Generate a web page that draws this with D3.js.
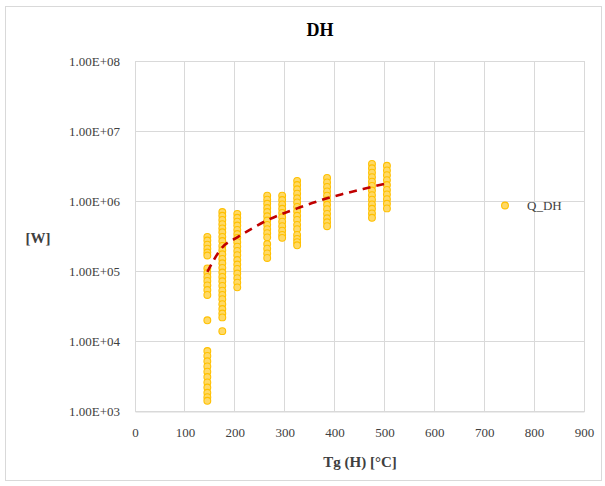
<!DOCTYPE html>
<html>
<head>
<meta charset="utf-8">
<script src="https://cdn.jsdelivr.net/npm/d3@7"></script>
<style>
  html, body { margin: 0; padding: 0; background: #fff; }
  svg { display: block; font-family: "Liberation Serif", "Times New Roman", serif; }
</style>
</head>
<body>
<svg id="chart" width="605" height="486"></svg>
<script>
// Gas temperature levels (°C) and the heat duty Q_DH (W) recorded at each level
const temperatures = [145, 175, 205, 265, 295, 325, 385, 475, 505];
const qAt145 = [3.1e5, 2.75e5, 2.4e5, 2.1e5, 1.85e5, 1.68e5,
                1.1e5, 9.5e4, 8.3e4, 7.3e4, 6.3e4, 5.4e4, 4.6e4,
                2.0e4,
                7.3e3, 6.2e3, 5.2e3, 4.4e3, 3.7e3, 3.1e3, 2.6e3, 2.2e3, 1.85e3, 1.6e3, 1.42e3];
const qAt175 = [7.0e5, 6.2e5, 5.4e5, 4.7e5, 4.1e5, 3.6e5, 3.1e5, 2.7e5, 2.3e5, 2.0e5,
                1.75e5, 1.5e5, 1.3e5, 1.12e5, 9.6e4, 8.3e4, 7.2e4, 6.2e4, 5.3e4, 4.6e4,
                4.0e4, 3.4e4, 2.9e4, 2.5e4, 2.2e4, 1.4e4];
const qAt205 = [6.6e5, 5.8e5, 5.1e5, 4.5e5, 3.9e5, 3.4e5, 3.0e5, 2.6e5, 2.25e5, 1.95e5,
                1.7e5, 1.45e5, 1.25e5, 1.08e5, 9.3e4, 8.0e4, 6.9e4, 5.9e4];
const qAt265 = [1.2e6, 1.05e6, 9.2e5, 8.0e5, 7.0e5, 6.1e5, 5.3e5, 4.6e5, 4.0e5, 3.5e5, 3.05e5,
                2.45e5, 2.1e5, 1.8e5, 1.55e5];
const qAt295 = [1.2e6, 1.04e6, 9.0e5, 7.8e5, 6.8e5, 5.9e5, 5.1e5, 4.4e5, 3.8e5, 3.3e5, 3.0e5];
const qAt325 = [1.95e6, 1.7e6, 1.48e6, 1.28e6, 1.1e6, 9.6e5, 8.3e5, 7.2e5, 6.2e5, 5.4e5, 4.6e5, 4.0e5,
                3.3e5, 2.9e5, 2.6e5, 2.35e5];
const qAt385 = [2.15e6, 1.85e6, 1.6e6, 1.38e6, 1.2e6, 1.03e6, 8.9e5, 7.7e5, 6.6e5, 5.7e5, 5.0e5, 4.4e5];
const qAt475 = [3.4e6, 2.95e6, 2.55e6, 2.2e6, 1.9e6, 1.65e6, 1.42e6, 1.22e6, 1.05e6, 9.0e5, 7.8e5, 6.7e5, 5.8e5];
const qAt505 = [3.2e6, 2.75e6, 2.35e6, 2.0e6, 1.7e6, 1.45e6, 1.25e6, 1.07e6, 9.2e5, 7.9e5];
const qByTemperature = [qAt145, qAt175, qAt205, qAt265, qAt295, qAt325, qAt385, qAt475, qAt505];

// Trendline through the Q_DH cloud
const trendT = [145, 175, 205, 235, 265, 295, 325, 355, 385, 415, 445, 475, 505];
const trendQ = [9.8e4, 2.2e5, 3.05e5, 4.1e5, 5.35e5, 6.6e5, 7.9e5, 9.4e5, 1.1e6, 1.26e6, 1.42e6, 1.6e6, 1.8e6];

// Axis ticks
const xTicks = [0, 100, 200, 300, 400, 500, 600, 700, 800, 900];
const yTicks = [1e3, 1e4, 1e5, 1e6, 1e7, 1e8];
const yTickLabels = ["1.00E+03", "1.00E+04", "1.00E+05", "1.00E+06", "1.00E+07", "1.00E+08"];

const chartTitle = "DH";
const xTitle = "Tg (H) [°C]";
const yTitle = "[W]";
const seriesName = "Q_DH";

const points = [];
temperatures.forEach((t, i) => qByTemperature[i].forEach(q => points.push({ t, q })));
const trend = trendT.map((t, i) => ({ t, q: trendQ[i] }));

const svg = d3.select("#chart");
const plot = { left: 135, right: 584, top: 61, bottom: 411.5 };

const x = d3.scaleLinear().domain([0, 900]).range([plot.left, plot.right]);
const y = d3.scaleLog().domain([1e3, 1e8]).range([plot.bottom, plot.top]);

// Chart frame
svg.append("rect")
  .attr("x", 5.5).attr("y", 6.5).attr("width", 596).attr("height", 474)
  .attr("fill", "#fff").attr("stroke", "#d9d9d9").attr("stroke-width", 1);

// Title
svg.append("text")
  .attr("x", 320).attr("y", 36)
  .attr("text-anchor", "middle")
  .attr("font-size", 18).attr("font-weight", "bold").attr("fill", "#000")
  .text(chartTitle);

// Gridlines
const grid = svg.append("g").attr("stroke", "#d9d9d9").attr("stroke-width", 1).attr("shape-rendering", "crispEdges");
grid.selectAll("line.v").data(xTicks).join("line")
  .attr("class", "v")
  .attr("x1", d => x(d)).attr("x2", d => x(d))
  .attr("y1", plot.top).attr("y2", plot.bottom);
grid.selectAll("line.h").data(yTicks).join("line")
  .attr("class", "h")
  .attr("x1", plot.left).attr("x2", plot.right)
  .attr("y1", d => y(d)).attr("y2", d => y(d));

// Axes (labels only, grid already drawn)
const xAxis = svg.append("g")
  .attr("transform", `translate(0,${plot.bottom})`)
  .call(d3.axisBottom(x).tickValues(xTicks).tickSize(0).tickPadding(16).tickFormat(d3.format("d")));
xAxis.select(".domain").attr("stroke", "#d9d9d9");
xAxis.selectAll("text").attr("font-size", 13).attr("fill", "#404040")
  .attr("font-family", "Liberation Serif, serif");

const yAxis = svg.append("g")
  .attr("transform", `translate(${plot.left},0)`)
  .call(d3.axisLeft(y).tickValues(yTicks).tickSize(0).tickPadding(15)
    .tickFormat((d, i) => yTickLabels[i]));
yAxis.select(".domain").remove();
yAxis.selectAll("text").attr("font-size", 13).attr("fill", "#404040")
  .attr("font-family", "Liberation Serif, serif");

// Axis titles
svg.append("text")
  .attr("x", 360).attr("y", 467)
  .attr("text-anchor", "middle")
  .attr("font-size", 15).attr("font-weight", "bold").attr("fill", "#404040")
  .text(xTitle);
svg.append("text")
  .attr("x", 38).attr("y", 243)
  .attr("text-anchor", "middle")
  .attr("font-size", 15).attr("font-weight", "bold").attr("fill", "#404040")
  .text(yTitle);

// Scatter markers
svg.append("g").selectAll("circle").data(points).join("circle")
  .attr("cx", d => x(d.t)).attr("cy", d => y(d.q))
  .attr("r", 3.4)
  .attr("fill", "#ffd966").attr("stroke", "#ffc000").attr("stroke-width", 1.1);

// Trendline
svg.append("path")
  .datum(trend)
  .attr("fill", "none")
  .attr("stroke", "#c00000").attr("stroke-width", 2.6)
  .attr("stroke-dasharray", "8,6")
  .attr("d", d3.line().x(d => x(d.t)).y(d => y(d.q)).curve(d3.curveMonotoneX));

// Legend
svg.append("circle")
  .attr("cx", 505).attr("cy", 205.5).attr("r", 3.4)
  .attr("fill", "#ffd966").attr("stroke", "#ffc000").attr("stroke-width", 1.1);
svg.append("text")
  .attr("x", 527).attr("y", 210)
  .attr("font-size", 13).attr("fill", "#404040")
  .text(seriesName);
</script>
</body>
</html>
